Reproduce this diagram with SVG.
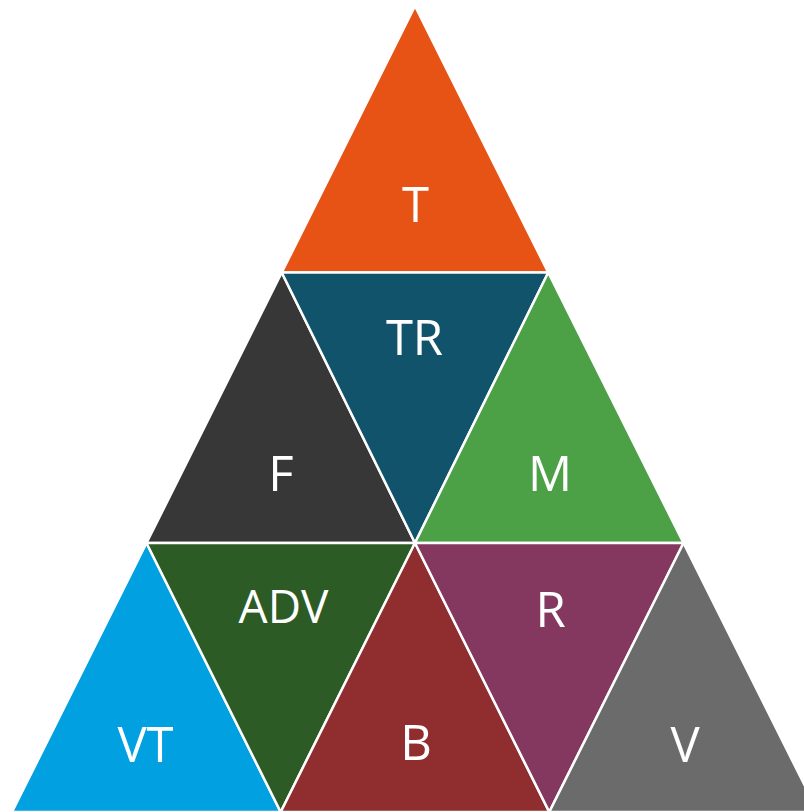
<svg xmlns="http://www.w3.org/2000/svg" width="804" height="812" viewBox="0 0 804 812">
<style>
.tri{stroke:#FFFFFF;stroke-width:2.5;stroke-linejoin:miter}
.lbl{font-family:"Open Sans","Noto Sans","Liberation Sans",sans-serif;font-size:49px;fill:#FFFFFF;text-anchor:middle}
</style>
<rect width="804" height="812" fill="#FFFFFF"/>
<g id="node-T"><polygon class="tri" fill="#E75315" points="415,6 281.75,272.5 548.25,272.5"/><text class="lbl" x="415.5" y="221.5">T</text></g>
<g id="node-F"><polygon class="tri" fill="#373737" points="281.75,272.5 146.5,543 415,543"/><text class="lbl" x="281" y="491">F</text></g>
<g id="node-TR"><polygon class="tri" fill="#11536B" points="281.75,272.5 548.25,272.5 415,543"/><text class="lbl" x="414.5" y="355">TR</text></g>
<g id="node-M"><polygon class="tri" fill="#4CA046" points="548.25,272.5 415,543 683.5,543"/><text class="lbl" x="550" y="491">M</text></g>
<g id="node-VT"><polygon class="tri" fill="#00A0E1" points="146.5,543 12,812 280.7,812"/><text class="lbl" x="145.5" y="761.5">VT</text></g>
<g id="node-ADV"><polygon class="tri" fill="#2C5B26" points="146.5,543 415,543 280.7,812"/><text class="lbl" x="283.5" y="623" style="font-size:46px">ADV</text></g>
<g id="node-B"><polygon class="tri" fill="#8F2D2F" points="415,543 280.7,812 549.3,812"/><text class="lbl" x="416" y="760">B</text></g>
<g id="node-R"><polygon class="tri" fill="#84385F" points="415,543 683.5,543 549.3,812"/><text class="lbl" x="550.5" y="626.5">R</text></g>
<g id="node-V"><polygon class="tri" fill="#6B6B6B" points="683.5,543 549.3,812 818,812"/><text class="lbl" x="685" y="761.5">V</text></g>
<g id="connectors"></g>
</svg>
